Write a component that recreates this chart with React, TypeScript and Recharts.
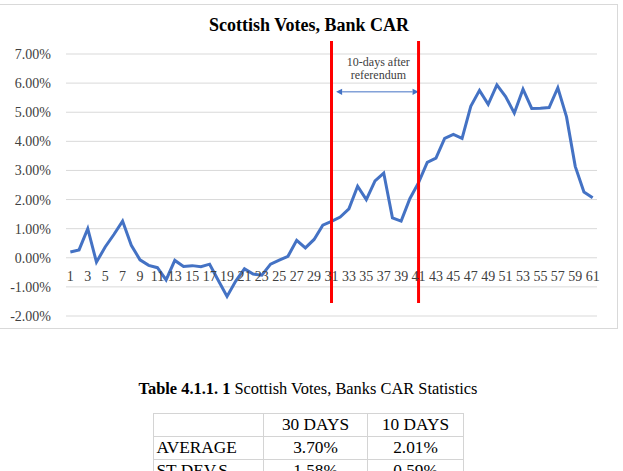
import React from 'react';
import {
  LineChart,
  Line,
  XAxis,
  YAxis,
  CartesianGrid,
  ReferenceLine,
} from 'recharts';

// Cumulative abnormal return (%) for each trading day of the event window
const CAR = [
  0.2, 0.27, 1.0, -0.15, 0.37, 0.8, 1.26, 0.43, -0.07, -0.26,
  -0.34, -0.76, -0.09, -0.3, -0.27, -0.31, -0.22, -0.78, -1.33, -0.8,
  -0.38, -0.56, -0.6, -0.22, -0.08, 0.05, 0.6, 0.34, 0.63, 1.12,
  1.25, 1.4, 1.68, 2.46, 2.0, 2.64, 2.91, 1.37, 1.26, 2.03,
  2.58, 3.28, 3.42, 4.1, 4.24, 4.1, 5.2, 5.75, 5.27, 5.94,
  5.54, 4.97, 5.79, 5.13, 5.14, 5.16, 5.84, 4.84, 3.14, 2.26,
  2.06,
];

const X_TICKS = [
  1, 3, 5, 7, 9, 11, 13, 15, 17, 19, 21, 23, 25, 27, 29, 31,
  33, 35, 37, 39, 41, 43, 45, 47, 49, 51, 53, 55, 57, 59, 61,
];
const Y_TICKS = [-2, -1, 0, 1, 2, 3, 4, 5, 6, 7];

// Start and end of the 10-day post-referendum window
const WINDOW_START = 31;
const WINDOW_END = 41;

const TITLE = 'Scottish Votes, Bank CAR';
const WINDOW_LABEL = ['10-days after', 'referendum'];

const TABLE_CAPTION_BOLD = 'Table 4.1.1. 1';
const TABLE_CAPTION = ' Scottish Votes, Banks CAR Statistics';
const TABLE_HEADERS = ['', '30 DAYS', '10 DAYS'];
const TABLE_ROWS = [
  ['AVERAGE', '3.70%', '2.01%'],
  ['ST DEV.S', '1.58%', '0.59%'],
];

const data = CAR.map((v, i) => ({ day: i + 1, car: v }));

const SERIF = '"Liberation Serif", "Times New Roman", Times, serif';
const CHART_W = 623;
const CHART_H = 330;
const MARGIN = { top: 54, right: 26, left: 0, bottom: 0 };
const Y_AXIS_W = 66;
const X_AXIS_H = 14;
const Y_MIN = -2;
const Y_MAX = 7;
const PLOT_H = CHART_H - MARGIN.top - MARGIN.bottom - X_AXIS_H;
// Category labels sit just under the zero line, as the axis crosses there
const ZERO_Y = MARGIN.top + (PLOT_H * (Y_MAX - 0)) / (Y_MAX - Y_MIN);

const XTick = (props: any) => {
  const { x, payload } = props;
  return (
    <text
      x={x}
      y={ZERO_Y + 19}
      textAnchor="middle"
      dominantBaseline="central"
      fontFamily={SERIF}
      fontSize={14}
      fill="#404040"
    >
      {payload.value}
    </text>
  );
};

const ArrowShape = (props: any) => {
  const { x1, y1, x2 } = props;
  const color = '#4472C4';
  const h = 6;
  const w = 3.2;
  const cx = (x1 + x2) / 2;
  return (
    <g>
      <line x1={x1 + h} y1={y1} x2={x2 - h} y2={y1} stroke={color} strokeWidth={1} />
      <polygon points={`${x1},${y1} ${x1 + h},${y1 - w} ${x1 + h},${y1 + w}`} fill={color} />
      <polygon points={`${x2},${y1} ${x2 - h},${y1 - w} ${x2 - h},${y1 + w}`} fill={color} />
      <text
        x={cx + 1}
        y={y1 - 25.5}
        textAnchor="middle"
        fontFamily={SERIF}
        fontSize={12}
        fill="#404040"
      >
        {WINDOW_LABEL[0]}
      </text>
      <text
        x={cx + 1}
        y={y1 - 13}
        textAnchor="middle"
        fontFamily={SERIF}
        fontSize={12}
        fill="#404040"
      >
        {WINDOW_LABEL[1]}
      </text>
    </g>
  );
};

const COL_X = [152.5, 263, 367, 464];
const ROW_Y = [413, 436, 459, 482];
const GRID_COLOR = '#d4d4d4';

const StatsTable = () => {
  const rows = [TABLE_HEADERS, ...TABLE_ROWS];
  return (
    <div style={{ position: 'absolute', left: 0, top: 0, width: 623, height: 471 }}>
      <div
        style={{
          position: 'absolute',
          left: 0,
          width: 616,
          top: 379,
          textAlign: 'center',
          fontFamily: SERIF,
          fontSize: 16.4,
          lineHeight: '20px',
          color: '#000',
          whiteSpace: 'nowrap',
        }}
      >
        <b>{TABLE_CAPTION_BOLD}</b>
        {TABLE_CAPTION}
      </div>
      {rows.map((row, r) =>
        row.map((cell, c) => (
          <div
            key={`${r}-${c}`}
            style={{
              position: 'absolute',
              left: COL_X[c],
              top: ROW_Y[r],
              width: COL_X[c + 1] - COL_X[c],
              height: ROW_Y[r + 1] - ROW_Y[r],
              boxSizing: 'border-box',
              borderLeft: `1px solid ${GRID_COLOR}`,
              borderTop: `1px solid ${GRID_COLOR}`,
              borderRight: c === 2 ? `1px solid ${GRID_COLOR}` : 'none',
              fontFamily: SERIF,
              fontSize: 17.3,
              lineHeight: '22px',
              textAlign: c === 0 ? 'left' : 'center',
              paddingLeft: c === 0 ? 3 : 0,
              color: '#000',
              whiteSpace: 'nowrap',
            }}
          >
            {cell}
          </div>
        ))
      )}
    </div>
  );
};

export default function App() {
  return (
    <div
      style={{
        position: 'absolute',
        left: 0,
        top: 0,
        width: 623,
        height: 471,
        overflow: 'hidden',
        background: '#fff',
      }}
    >
      <div
        style={{
          position: 'absolute',
          left: -2,
          top: 4,
          width: 620,
          height: 325,
          boxSizing: 'border-box',
          border: '1px solid #d9d9d9',
        }}
      />
      <div
        style={{
          position: 'absolute',
          left: 0,
          top: 14,
          width: 618,
          textAlign: 'center',
          fontFamily: SERIF,
          fontWeight: 'bold',
          fontSize: 18,
          lineHeight: '22px',
          color: '#000',
          whiteSpace: 'nowrap',
        }}
      >
        {TITLE}
      </div>
      <div style={{ position: 'absolute', left: 0, top: 0 }}>
        <LineChart width={CHART_W} height={CHART_H} data={data} margin={MARGIN}>
          <CartesianGrid vertical={false} stroke="#d9d9d9" strokeWidth={1} />
          <XAxis
            dataKey="day"
            type="number"
            domain={[0.5, 61.5]}
            ticks={X_TICKS}
            interval={0}
            height={X_AXIS_H}
            axisLine={false}
            tickLine={false}
            tick={<XTick />}
          />
          <YAxis
            type="number"
            domain={[Y_MIN, Y_MAX]}
            ticks={Y_TICKS}
            width={Y_AXIS_W}
            axisLine={false}
            tickLine={false}
            tickSize={0}
            tickMargin={15}
            tickFormatter={(v: number) => `${v.toFixed(2)}%`}
            tick={{ fontFamily: SERIF, fontSize: 14, fill: '#404040' }}
          />
          <Line
            type="linear"
            dataKey="car"
            stroke="#4472C4"
            strokeWidth={3}
            dot={false}
            activeDot={false}
            isAnimationActive={false}
          />
          <ReferenceLine
            segment={[
              { x: WINDOW_START + 0.53, y: 5.7 },
              { x: WINDOW_END, y: 5.7 },
            ]}
            ifOverflow="visible"
            shape={<ArrowShape />}
          />
          <ReferenceLine
            segment={[
              { x: WINDOW_START, y: 7.45 },
              { x: WINDOW_START, y: -1.55 },
            ]}
            ifOverflow="visible"
            stroke="#ff0000"
            strokeWidth={3}
          />
          <ReferenceLine
            segment={[
              { x: WINDOW_END, y: 7.45 },
              { x: WINDOW_END, y: -1.55 },
            ]}
            ifOverflow="visible"
            stroke="#ff0000"
            strokeWidth={3}
          />
        </LineChart>
      </div>
      <StatsTable />
    </div>
  );
}
